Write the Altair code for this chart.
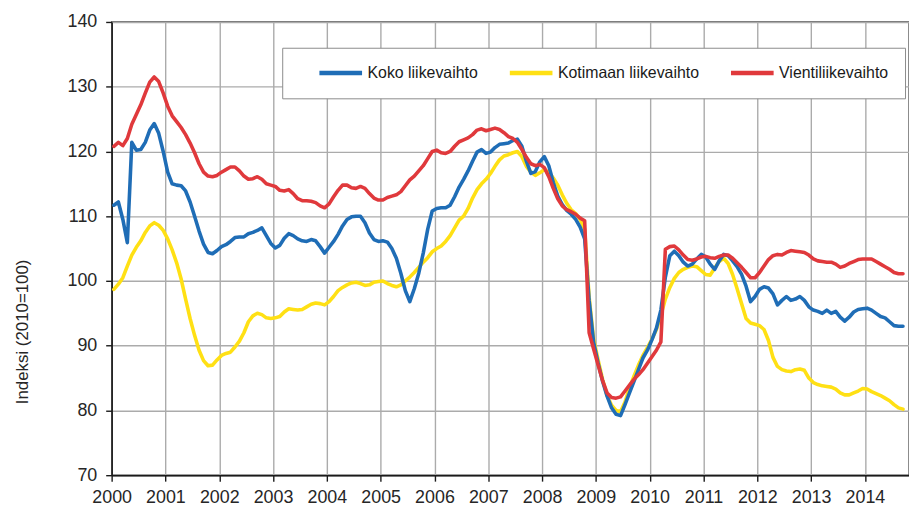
import altair as alt
import pandas as pd

# Series names (legend order) and colours
names = ["Koko liikevaihto", "Kotimaan liikevaihto", "Vientiliikevaihto"]
colors = ["#1f6db6", "#ffe014", "#e0393c"]

# Monthly values Jan 2000 .. Sep 2014, index 2010=100
koko = [
    111.7, 112.2, 109.5, 105.9, 121.4, 120.2, 120.3, 121.4, 123.3, 124.3, 122.8, 120.0,  # 2000
    116.8, 115.0, 114.8, 114.7, 113.9, 112.2, 110.0, 107.7, 105.7, 104.4, 104.2, 104.7,  # 2001
    105.3, 105.6, 106.1, 106.7, 106.8, 106.8, 107.3, 107.5, 107.8, 108.2, 107.0, 105.8,  # 2002
    105.1, 105.5, 106.6, 107.3, 107.0, 106.5, 106.2, 106.1, 106.4, 106.2, 105.3, 104.3,  # 2003
    105.2, 106.1, 107.2, 108.5, 109.5, 109.9, 110.0, 110.0, 109.0, 107.4, 106.4, 106.1,  # 2004
    106.2, 106.0, 105.0, 103.5, 101.2, 98.5, 96.8, 98.8, 101.2, 104.3, 108.0, 110.8,     # 2005
    111.2, 111.3, 111.3, 111.7, 113.0, 114.5, 115.7, 117.0, 118.5, 119.9, 120.3, 119.7,  # 2006
    119.9, 120.6, 121.1, 121.2, 121.3, 121.7, 121.9, 120.8, 118.5, 116.6, 116.9, 118.4,  # 2007
    119.2, 117.8, 115.2, 113.1, 111.8, 110.9, 110.3, 109.5, 108.3, 106.5, 97.0, 90.5,    # 2008
    87.3, 84.5, 82.2, 80.4, 79.4, 79.2, 80.9, 82.7, 84.5, 86.3, 88.1, 89.3,              # 2009
    90.9, 92.7, 95.5, 100.6, 103.9, 104.6, 103.9, 102.9, 102.3, 102.6, 103.4, 104.1,     # 2010
    103.7, 102.6, 101.8, 103.1, 104.1, 103.9, 103.1, 102.2, 101.0, 99.2, 96.8, 97.6,     # 2011
    98.7, 99.1, 98.9, 98.0, 96.3, 97.0, 97.6, 97.0, 97.2, 97.6, 97.0, 96.0,              # 2012
    95.5, 95.3, 95.0, 95.5, 95.0, 95.3, 94.4, 93.8, 94.4, 95.2, 95.6, 95.7,              # 2013
    95.8, 95.5, 95.0, 94.5, 94.3, 93.7, 93.1, 93.0, 93.0,                                # 2014
]
kotimaa = [
    98.7, 99.5, 100.5, 102.3, 104.0, 105.2, 106.2, 107.5, 108.5, 109.0, 108.6, 107.8,    # 2000
    106.5, 104.8, 102.8, 100.3, 97.2, 94.2, 91.6, 89.3, 87.7, 86.9, 87.0, 87.8,          # 2001
    88.5, 88.8, 89.0, 89.8, 90.7, 92.0, 93.7, 94.6, 95.0, 94.8, 94.3, 94.2,              # 2002
    94.3, 94.5, 95.2, 95.7, 95.6, 95.5, 95.6, 96.0, 96.4, 96.6, 96.5, 96.3,              # 2003
    96.8, 97.6, 98.5, 99.0, 99.4, 99.7, 99.8, 99.6, 99.3, 99.4, 99.8, 99.9,              # 2004
    100.0, 99.6, 99.3, 99.1, 99.4, 100.0, 100.6, 101.3, 102.1, 102.9, 103.6, 104.5,      # 2005
    105.0, 105.4, 106.1, 107.0, 108.2, 109.4, 110.0, 111.2, 112.8, 114.1, 115.0, 115.7,  # 2006
    116.6, 117.7, 118.7, 119.3, 119.5, 119.8, 120.0, 119.2, 117.7, 116.8, 116.3, 116.7,  # 2007
    117.2, 116.8, 115.9, 114.8, 113.3, 112.0, 111.0, 110.4, 109.5, 108.0, 97.5, 91.0,    # 2008
    87.8, 84.8, 82.3, 80.8, 80.0, 79.8, 81.3, 83.5, 85.3, 87.0, 88.5, 89.7,              # 2009
    91.0, 92.5, 94.7, 97.2, 99.0, 100.4, 101.3, 101.8, 102.1, 102.3, 102.2, 101.6,       # 2010
    101.0, 100.9, 102.0, 103.0, 103.5, 102.7, 101.0, 98.8, 96.5, 94.2, 93.5, 93.3,       # 2011
    93.1, 92.5, 90.8, 88.2, 86.8, 86.3, 86.1, 86.0, 86.3, 86.4, 86.2, 85.0,              # 2012
    84.3, 84.0, 83.8, 83.7, 83.6, 83.3, 82.7, 82.4, 82.4, 82.7, 83.0, 83.4,              # 2013
    83.3, 82.9, 82.6, 82.3, 81.9, 81.5, 80.9, 80.4, 80.2,                                # 2014
]
vienti = [
    120.8, 121.4, 120.9, 122.0, 124.2, 125.7, 127.2, 129.0, 130.7, 131.5, 130.8, 129.0,  # 2000
    127.0, 125.5, 124.6, 123.7, 122.6, 121.3, 119.8, 118.1, 116.8, 116.2, 116.1, 116.3,  # 2001
    116.8, 117.2, 117.6, 117.6, 117.0, 116.2, 115.7, 115.8, 116.1, 115.7, 115.0, 114.8,  # 2002
    114.6, 114.0, 113.9, 114.1, 113.5, 112.7, 112.4, 112.4, 112.3, 112.1, 111.6, 111.3,  # 2003
    111.9, 113.0, 114.0, 114.8, 114.8, 114.4, 114.3, 114.6, 114.3, 113.5, 112.8, 112.5,  # 2004
    112.5, 112.9, 113.1, 113.3, 113.8, 114.7, 115.6, 116.2, 117.0, 117.8, 118.9, 120.0,  # 2005
    120.2, 119.8, 119.7, 120.0, 120.8, 121.5, 121.8, 122.1, 122.6, 123.3, 123.5, 123.2,  # 2006
    123.4, 123.6, 123.4, 122.9, 122.3, 122.0, 121.4, 120.3, 119.1, 118.1, 117.8, 118.0,  # 2007
    117.5, 116.1, 114.3, 112.7, 111.6, 111.0, 110.7, 110.3, 109.7, 109.3, 92.0, 89.5,    # 2008
    87.0, 84.6, 82.7, 82.0, 81.9, 82.1, 83.0, 83.9, 84.8, 85.5, 86.3, 87.3,              # 2009
    88.3, 89.3, 90.6, 104.9, 105.3, 105.4, 104.8, 104.0, 103.3, 103.2, 103.4, 103.7,    # 2010
    103.8, 103.6, 103.5, 103.8, 104.0, 104.0, 103.5, 102.8, 102.1, 101.3, 100.5, 100.5,  # 2011
    101.3, 102.3, 103.3, 103.9, 104.1, 104.0, 104.4, 104.7, 104.6, 104.5, 104.4, 104.0,  # 2012
    103.4, 103.1, 103.0, 102.9, 102.9, 102.6, 102.1, 102.3, 102.7, 103.0, 103.3, 103.4,  # 2013
    103.4, 103.4, 103.0, 102.6, 102.2, 101.8, 101.3, 101.1, 101.1,                       # 2014
]

years = list(range(2000, 2015))
y_ticks = [70, 80, 90, 100, 110, 120, 130, 140]

# long table; drawing order: yellow, blue, red on top
rows = []
for name, vals in [(names[1], kotimaa), (names[0], koko), (names[2], vienti)]:
    for i, v in enumerate(vals):
        rows.append({"t": 2000 + (i + 0.5) / 12, "v": v, "s": name, "i": i})
df = pd.DataFrame(rows)

FONT = "Liberation Sans"

chart = alt.Chart(df).mark_line(strokeWidth=3.6, strokeJoin="round", strokeCap="round").encode(
    x=alt.X("t:Q",
            scale=alt.Scale(domain=[2000, 2014.82], nice=False, zero=False),
            axis=alt.Axis(values=years, format="d", title=None, labelFontSize=18,
                          labelPadding=8, tickSize=6, labelOverlap=False, labelFlush=False)),
    y=alt.Y("v:Q",
            scale=alt.Scale(domain=[70, 140], nice=False, zero=False),
            axis=alt.Axis(values=y_ticks, title="Indeksi (2010=100)", labelFontSize=18,
                          labelPadding=9, tickSize=6,
                          titleFontSize=17, titleFontWeight="normal", titleAngle=270,
                          titleAlign="center", titleBaseline="middle",
                          titleX=-90, titleY=312, titleColor="#262626")),
    color=alt.Color("s:N",
                    scale=alt.Scale(domain=names, range=colors),
                    legend=alt.Legend(title=None, orient="none", legendX=172, legendY=26,
                                      direction="horizontal", symbolType="stroke",
                                      symbolSize=1849, symbolStrokeWidth=4.5,
                                      labelFontSize=16, labelFont=FONT, labelColor="#1a1a1a",
                                      labelOffset=3, columnPadding=11, padding=17,
                                      symbolOffset=18, clipHeight=17,
                                      fillColor="white", strokeColor="#8c8c8c")),
    order=alt.Order("i:Q"),
    detail="s:N",
).properties(
    width=804,
    height=457,
    autosize=alt.AutoSizeParams(type="none"),
    padding={"left": 104.5, "top": 12, "right": 0, "bottom": 31},
).configure_axis(
    labelFont=FONT,
    titleFont=FONT,
    labelColor="#262626",
    domainColor="#1a1a1a",
    domainWidth=1.6,
    tickColor="#1a1a1a",
    tickWidth=1.4,
    gridColor="#ababab",
    gridWidth=1.4,
    grid=True,
).configure_view(
    stroke="#404040",
    strokeWidth=1.4,
)

chart.save("out.html", embed_options={"renderer": "svg", "actions": False})
